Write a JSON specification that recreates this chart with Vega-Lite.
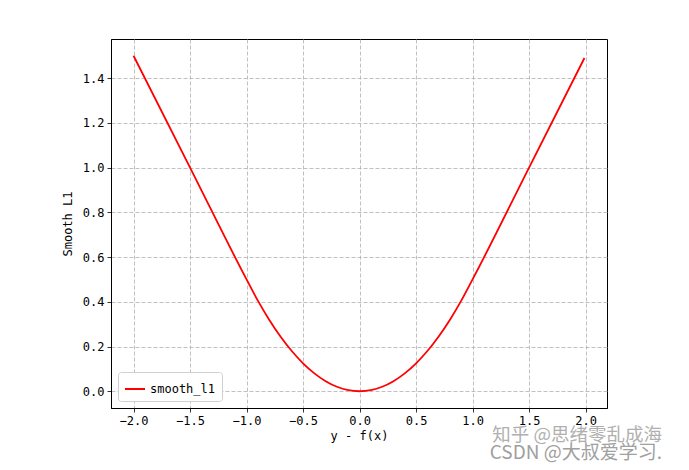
{
  "$schema": "https://vega.github.io/schema/vega-lite/v6.json",
  "width": 496,
  "height": 369,
  "autosize": {"type": "none"},
  "padding": {"left": 111, "top": 39, "right": 82, "bottom": 62},
  "background": "white",
  "title": {
    "text": "知乎 @思绪零乱成海",
    "subtitle": "CSDN @大叔爱学习.",
    "orient": "bottom",
    "anchor": "end",
    "frame": "group",
    "offset": -15,
    "dx": 55,
    "font": "Noto Sans CJK SC",
    "fontSize": 18.5,
    "fontWeight": "normal",
    "color": "#b0b0b0",
    "subtitleFont": "Noto Sans CJK SC",
    "subtitleFontSize": 19,
    "subtitleColor": "#a0a0a0",
    "subtitlePadding": -1
  },
  "data": {
    "values": [
      {"x": -2.0, "y": 1.5, "s": "smooth_l1"},
      {"x": -1.5, "y": 1.0, "s": "smooth_l1"},
      {"x": -1.0, "y": 0.5, "s": "smooth_l1"},
      {"x": -0.9, "y": 0.405, "s": "smooth_l1"},
      {"x": -0.8, "y": 0.32, "s": "smooth_l1"},
      {"x": -0.7, "y": 0.245, "s": "smooth_l1"},
      {"x": -0.6, "y": 0.18, "s": "smooth_l1"},
      {"x": -0.5, "y": 0.125, "s": "smooth_l1"},
      {"x": -0.4, "y": 0.08, "s": "smooth_l1"},
      {"x": -0.3, "y": 0.045, "s": "smooth_l1"},
      {"x": -0.2, "y": 0.02, "s": "smooth_l1"},
      {"x": -0.1, "y": 0.005, "s": "smooth_l1"},
      {"x": 0.0, "y": 0.0, "s": "smooth_l1"},
      {"x": 0.1, "y": 0.005, "s": "smooth_l1"},
      {"x": 0.2, "y": 0.02, "s": "smooth_l1"},
      {"x": 0.3, "y": 0.045, "s": "smooth_l1"},
      {"x": 0.4, "y": 0.08, "s": "smooth_l1"},
      {"x": 0.5, "y": 0.125, "s": "smooth_l1"},
      {"x": 0.6, "y": 0.18, "s": "smooth_l1"},
      {"x": 0.7, "y": 0.245, "s": "smooth_l1"},
      {"x": 0.8, "y": 0.32, "s": "smooth_l1"},
      {"x": 0.9, "y": 0.405, "s": "smooth_l1"},
      {"x": 1.0, "y": 0.5, "s": "smooth_l1"},
      {"x": 1.5, "y": 1.0, "s": "smooth_l1"},
      {"x": 1.99, "y": 1.49, "s": "smooth_l1"}
    ]
  },
  "mark": {"type": "line", "strokeWidth": 1.8, "interpolate": "monotone"},
  "encoding": {
    "x": {
      "field": "x",
      "type": "quantitative",
      "scale": {"domain": [-2.1995, 2.1895], "nice": false, "zero": false},
      "axis": {
        "title": "y - f(x)",
        "values": [-2, -1.5, -1, -0.5, 0, 0.5, 1, 1.5, 2],
        "format": ".1f",
        "titlePadding": 4
      }
    },
    "y": {
      "field": "y",
      "type": "quantitative",
      "scale": {"domain": [-0.075, 1.575], "nice": false, "zero": false},
      "axis": {
        "title": "Smooth L1",
        "values": [0, 0.2, 0.4, 0.6, 0.8, 1.0, 1.2, 1.4],
        "format": ".1f",
        "titlePadding": 8
      }
    },
    "color": {
      "field": "s",
      "type": "nominal",
      "scale": {"range": ["#ff0000"]},
      "legend": {
        "title": null,
        "orient": "bottom-left",
        "offset": 7,
        "symbolType": "stroke",
        "symbolStrokeWidth": 2,
        "symbolSize": 400,
        "labelFont": "DejaVu Sans Mono",
        "labelFontSize": 12,
        "labelColor": "black",
        "strokeColor": "#d0d0d0",
        "fillColor": "white",
        "cornerRadius": 3,
        "padding": 6
      }
    }
  },
  "config": {
    "view": {"stroke": "black", "strokeWidth": 1},
    "axis": {
      "grid": true,
      "gridColor": "#b0b0b0",
      "gridDash": [4, 2],
      "gridWidth": 0.8,
      "domainColor": "black",
      "domainWidth": 1,
      "tickColor": "black",
      "tickSize": 4,
      "tickWidth": 0.8,
      "labelFont": "DejaVu Sans Mono",
      "labelFontSize": 12,
      "labelColor": "black",
      "labelPadding": 3,
      "titleFont": "DejaVu Sans Mono",
      "titleFontSize": 12,
      "titleFontWeight": "normal",
      "titleColor": "black"
    }
  }
}
